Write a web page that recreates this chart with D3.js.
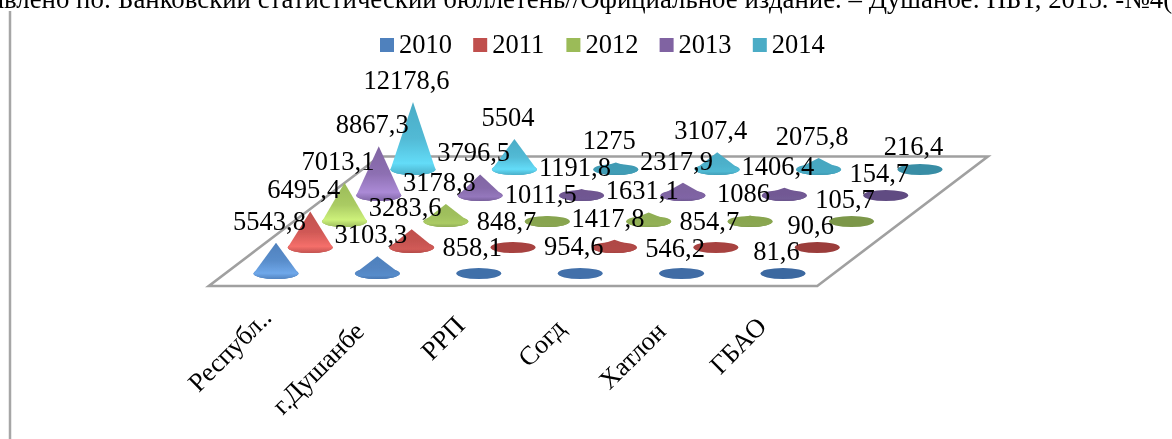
<!DOCTYPE html>
<html><head><meta charset="utf-8">
<script src="https://cdn.jsdelivr.net/npm/d3@7/dist/d3.min.js"></script>
<style>html,body{margin:0;padding:0;background:#fff;overflow:hidden}svg{display:block}text{font-family:"Liberation Serif",serif;fill:#000}</style>
</head><body><svg id="c" width="1172" height="439"></svg>
<script>
const categories = ["Республ..", "г.Душанбе", "РРП", "Согд", "Хатлон", "ГБАО"];
const years = ["2010", "2011", "2012", "2013", "2014"];
const v2010 = [5543.8, 3103.3, 858.1, 954.6, 546.2, 81.6];
const v2011 = [6495.4, 3283.6, 848.7, 1417.8, 854.7, 90.6];
const v2012 = [7013.1, 3178.8, 1011.5, 1631.1, 1086, 105.7];
const v2013 = [8867.3, 3796.5, 1191.8, 2317.9, 1406.4, 154.7];
const v2014 = [12178.6, 5504, 1275, 3107.4, 2075.8, 216.4];
const seriesValues = [v2010, v2011, v2012, v2013, v2014];
const headerText = "Составлено по: Банковский статистический бюллетень//Официальное издание. – Душанбе: НБТ, 2015. -№4(";

const swatch = ["#4f81bd", "#c0504d", "#9bbb59", "#8064a2", "#4bacc6"];
const bright = ["#6fa8ea", "#f56f6a", "#cdf17a", "#ab8ad6", "#63dcf8"];
const dark   = ["#3a669f", "#9a3c3a", "#7a9548", "#5f4a80", "#368aa2"];

const svg = d3.select("#c");
const defs = svg.append("defs");
const blur=(id,sd)=>defs.append("filter").attr("id",id).attr("x","-10%").attr("y","-10%").attr("width","120%").attr("height","120%")
  .append("feGaussianBlur").attr("stdDeviation",sd);
blur("soft",0.5); blur("softText",0.3);

const FS = 26.5;
const xCat = d3.scaleLinear().domain([0, 5]).range([276, 783]);
const xDepth = d3.scaleLinear().domain([0, 4]).range([0, 137]);
const yDepth = d3.scaleLinear().domain([0, 4]).range([273.5, 169.5]);
const hVal = d3.scaleLinear().domain([0, 12178.6]).range([0, 67.5]);
const px = (c, s) => xCat(c) + xDepth(s);
const py = s => yDepth(s);
const RX = 22.5, RY = 5.5;

// header, sized and placed from its own measured glyph positions
const hdr = svg.append("text").attr("y", 7.5).attr("font-size", FS).text(headerText);
const iB = headerText.indexOf("Банковский"), iN = headerText.indexOf("№");
const n = hdr.node();
const span = n.getStartPositionOfChar(iN).x - n.getStartPositionOfChar(iB).x;
hdr.attr("font-size", FS * (1125 - 118) / span);
hdr.attr("x", 118 - n.getStartPositionOfChar(iB).x);
hdr.attr("filter","url(#softText)");

svg.append("line").attr("x1",10).attr("x2",10).attr("y1",11).attr("y2",439).attr("stroke","#a6a6a6").attr("stroke-width",2.5);

// floor
const c0=-0.5,c1=5.5,s0=-0.48,s1=4.5;
const floor=[[c0,s0],[c1,s0],[c1,s1],[c0,s1]].map(([c,s])=>[px(c,s),py(s)]);
svg.append("path").attr("d",d3.line()(floor)+"Z").attr("fill","#fff").attr("stroke","#a0a0a0").attr("stroke-width",2.6).attr("stroke-linejoin","miter");

// legend
const lg = svg.append("g").attr("filter","url(#softText)").selectAll("g").data(years).join("g")
  .attr("transform",(d,i)=>`translate(${380+93.2*i},0)`);
lg.append("rect").attr("y",38).attr("width",14).attr("height",14).attr("fill",(d,i)=>swatch[i]);
lg.append("text").attr("x",19).attr("y",53).attr("font-size",FS).text(d=>d);

// cones, back row first
const marks = svg.append("g").attr("filter","url(#soft)");
const points = [];
d3.range(years.length-1,-1,-1).forEach(s=>{
  seriesValues[s].forEach((v,c)=>{
    const x=px(c,s), y=py(s), h=hVal(v);
    const t=Math.min(1,h/14);
    const id=`g${s}_${c}`;
    const g=defs.append("linearGradient").attr("id",id).attr("x1",0).attr("x2",0).attr("y1",0).attr("y2",1);
    const top=d3.interpolateRgb(dark[s],swatch[s])(t), hi=d3.interpolateRgb(dark[s],bright[s])(Math.min(1,h/30));
    g.append("stop").attr("offset",0).attr("stop-color",top);
    g.append("stop").attr("offset",0.5).attr("stop-color",d3.interpolateRgb(top,hi)(0.3));
    g.append("stop").attr("offset",0.84).attr("stop-color",hi);
    g.append("stop").attr("offset",1).attr("stop-color",d3.interpolateRgb(hi,dark[s])(0.55));
    const apexY=y-h;
    marks.append("ellipse").attr("cx",x).attr("cy",y).attr("rx",RX).attr("ry",RY).attr("fill",top);
    if(h>RY){
      marks.append("path").attr("d",`M${x-RX},${y}A${RX},${RY} 0 0 0 ${x+RX},${y}L${x},${apexY}Z`).attr("fill",`url(#${id})`);
    }
    points.push({x,apexY,v});
  });
});

// data labels
const fmt = d3.formatLocale({decimal:",",thousands:"",grouping:[3],currency:["",""]}).format(".1~f");
svg.append("g").attr("filter","url(#softText)").selectAll("text").data(points).join("text")
  .attr("x",d=>d.x-6.5).attr("y",d=>d.apexY-13).attr("text-anchor","middle").attr("font-size",FS)
  .text(d=>fmt(d.v));

// category axis labels
const xLab = d3.scalePoint().domain(categories).range([265,768]);
const dxLab = [8,0,0,0,0,0];
const yLabEnd = [319,333,327,330,333,328];
svg.append("g").attr("filter","url(#softText)").selectAll("text").data(categories).join("text")
  .attr("text-anchor","end").attr("font-size",FS)
  .attr("transform",(d,i)=>`translate(${xLab(d)+dxLab[i]},${yLabEnd[i]}) rotate(-45)`)
  .text(d=>d);
</script></body></html>
